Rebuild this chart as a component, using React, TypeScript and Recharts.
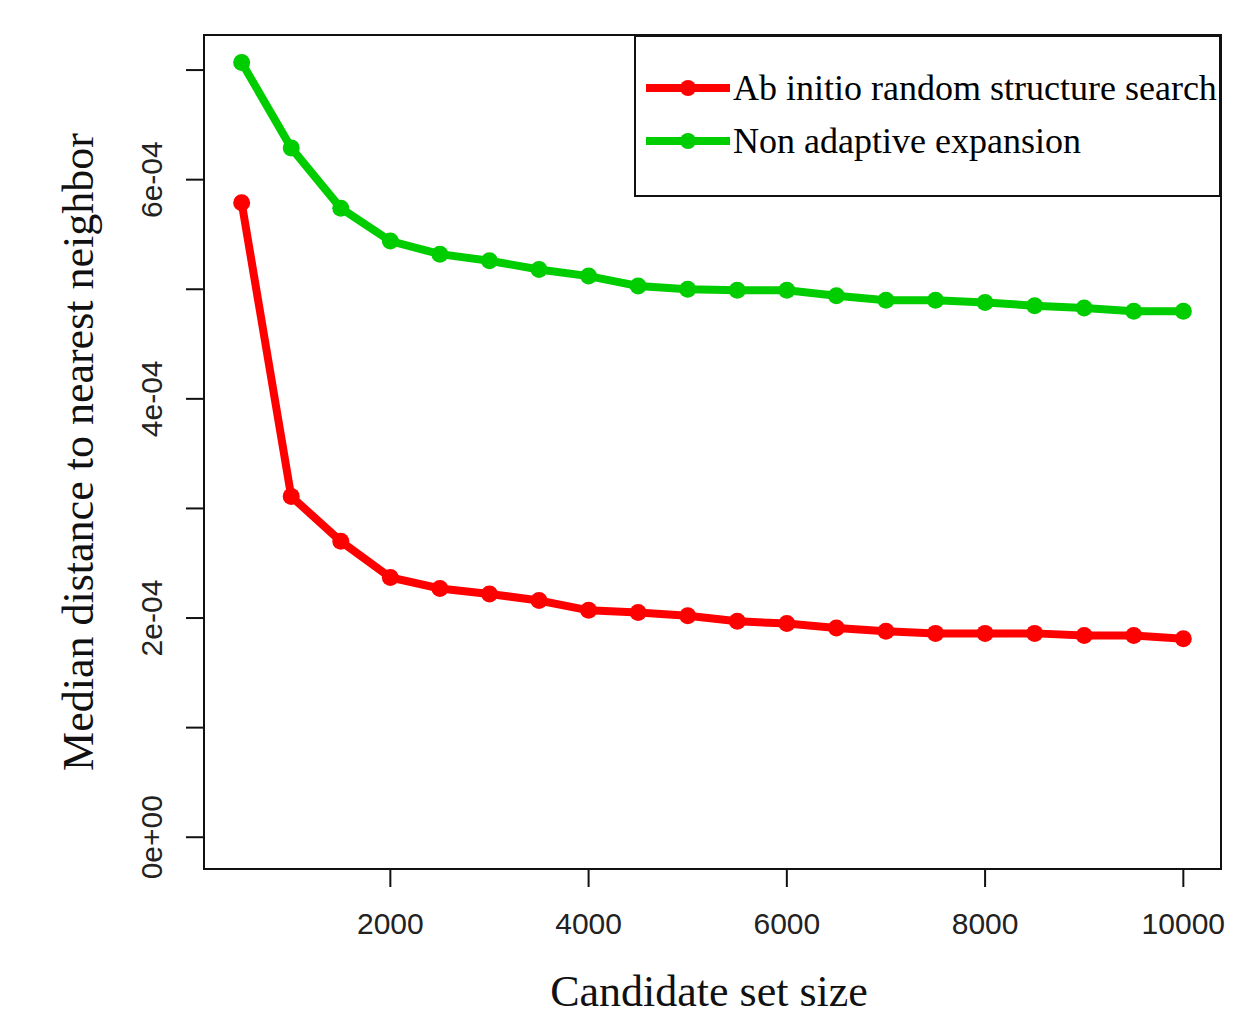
import React from "react"
import {
  Label,
  Legend,
  Line,
  LineChart,
  ReferenceArea,
  XAxis,
  YAxis,
} from "recharts"

// candidate set sizes
const sizes = [
  500, 1000, 1500, 2000, 2500, 3000, 3500, 4000, 4500, 5000, 5500, 6000, 6500,
  7000, 7500, 8000, 8500, 9000, 9500, 10000,
]

// median distance to nearest neighbor (units of 1e-4)
const abInitio = [
  5.79, 3.11, 2.7, 2.37, 2.27, 2.22, 2.16, 2.07, 2.05, 2.02, 1.97, 1.95, 1.91,
  1.88, 1.86, 1.86, 1.86, 1.84, 1.84, 1.81,
]
const nonAdaptive = [
  7.07, 6.29, 5.74, 5.44, 5.32, 5.26, 5.18, 5.12, 5.03, 5.0, 4.99, 4.99, 4.94,
  4.9, 4.9, 4.88, 4.85, 4.83, 4.8, 4.8,
]

const xTicks = [2000, 4000, 6000, 8000, 10000]
const yTicks = [0, 1e-4, 2e-4, 3e-4, 4e-4, 5e-4, 6e-4, 7e-4]
const yTickLabels = ["0e+00", "", "2e-04", "", "4e-04", "", "6e-04", ""]

const seriesNames = ["Ab initio random structure search", "Non adaptive expansion"]
const seriesColors = ["#ff0000", "#00cd00"]

const data = sizes.map((size, i) => ({
  size,
  abInitio: abInitio[i] * 1e-4,
  nonAdaptive: nonAdaptive[i] * 1e-4,
}))

const X_DOMAIN: [number, number] = [120, 10380]
const Y_DOMAIN: [number, number] = [-0.29e-4, 7.32e-4]

const serif = "'Liberation Serif', 'Times New Roman', serif"
const sans = "'Liberation Sans', Arial, sans-serif"

const Dot = (props: any) => {
  const { cx, cy, stroke } = props
  if (cx == null || cy == null) return null
  return <circle cx={cx} cy={cy} r={8.5} fill={stroke} stroke="none" />
}

const XTick = (props: any) => {
  const { x, y, payload } = props
  return (
    <text
      x={x}
      y={y + 45}
      textAnchor="middle"
      fontFamily={sans}
      fontSize={30}
      fill="#222"
    >
      {payload.value}
    </text>
  )
}

const YTick = (props: any) => {
  const { x, y, index } = props
  const label = yTickLabels[index]
  if (!label) return null
  const cx = x - 32
  return (
    <text
      x={cx}
      y={y}
      transform={`rotate(-90 ${cx} ${y})`}
      textAnchor="middle"
      dominantBaseline="central"
      fontFamily={sans}
      fontSize={30}
      fill="#222"
    >
      {label}
    </text>
  )
}

const LegendBox = () => (
  <div
    style={{
      width: 587,
      height: 162,
      boxSizing: "border-box",
      border: "2px solid #111",
      background: "#fff",
      position: "relative",
    }}
  >
    {seriesNames.map((name, i) => (
      <div
        key={name}
        style={{
          position: "absolute",
          left: 9,
          top: 51 + i * 53 - 22,
          height: 44,
          display: "flex",
          alignItems: "center",
          whiteSpace: "nowrap",
        }}
      >
        <svg width={86} height={20}>
          <line
            x1={1}
            y1={10}
            x2={85}
            y2={10}
            stroke={seriesColors[i]}
            strokeWidth={8}
          />
          <circle cx={43} cy={10} r={8} fill={seriesColors[i]} />
        </svg>
        <span
          style={{
            fontFamily: serif,
            fontSize: 36,
            color: "#000",
            marginLeft: 2,
          }}
        >
          {name}
        </span>
      </div>
    ))}
  </div>
)

export default function App() {
  return (
    <LineChart
      width={1236}
      height={1010}
      data={data}
      margin={{ top: 27, right: 23, left: 0, bottom: 0 }}
    >
      <XAxis
        dataKey="size"
        type="number"
        domain={X_DOMAIN}
        ticks={xTicks}
        allowDataOverflow
        height={149}
        tickSize={18}
        tick={<XTick />}
        axisLine={{ stroke: "#111", strokeWidth: 2 }}
        tickLine={{ stroke: "#111", strokeWidth: 2 }}
      >
        <Label
          content={() => (
            <text
              x={701}
              y={998}
              textAnchor="middle"
              fontFamily={serif}
              fontSize={44}
              fill="#111"
            >
              Candidate set size
            </text>
          )}
        />
      </XAxis>
      <YAxis
        type="number"
        domain={Y_DOMAIN}
        ticks={yTicks}
        allowDataOverflow
        width={196}
        tickSize={18}
        tick={<YTick />}
        axisLine={{ stroke: "#111", strokeWidth: 2 }}
        tickLine={{ stroke: "#111", strokeWidth: 2 }}
      >
        <Label
          content={() => (
            <text
              x={70}
              y={444}
              transform="rotate(-90 70 444)"
              textAnchor="middle"
              dominantBaseline="central"
              fontFamily={serif}
              fontSize={44}
              fill="#111"
            >
              Median distance to nearest neighbor
            </text>
          )}
        />
      </YAxis>
      <ReferenceArea
        x1={X_DOMAIN[0]}
        x2={X_DOMAIN[1]}
        y1={Y_DOMAIN[0]}
        y2={Y_DOMAIN[1]}
        fill="none"
        stroke="#111"
        strokeWidth={2}
        ifOverflow="visible"
      />
      <Line
        dataKey="abInitio"
        name={seriesNames[0]}
        stroke={seriesColors[0]}
        strokeWidth={8}
        dot={<Dot />}
        activeDot={false}
        isAnimationActive={false}
      />
      <Line
        dataKey="nonAdaptive"
        name={seriesNames[1]}
        stroke={seriesColors[1]}
        strokeWidth={8}
        dot={<Dot />}
        activeDot={false}
        isAnimationActive={false}
      />
      <Legend
        layout="horizontal"
        verticalAlign="middle"
        content={<LegendBox />}
        wrapperStyle={{ left: 626, top: 27, width: 587, height: 162 }}
      />
    </LineChart>
  )
}
